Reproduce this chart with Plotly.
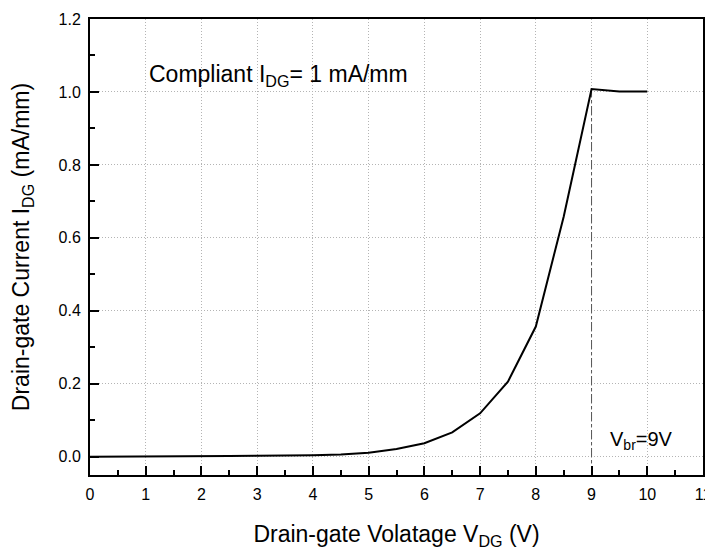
import plotly.graph_objects as go

# Data
v_dg = [0, 0.5, 1, 1.5, 2, 2.5, 3, 3.5, 4, 4.5, 5, 5.5, 6, 6.5, 7, 7.5, 8, 8.5, 9, 9.5, 10]
i_dg = [0.000, 0.000, 0.001, 0.001, 0.002, 0.002, 0.003, 0.003, 0.004, 0.006, 0.011, 0.021,
        0.037, 0.067, 0.119, 0.206, 0.357, 0.658, 1.008, 1.001, 1.001]
v_br = 9
i_compliant = 1.0
x_range = [0, 11]
y_range = [-0.05, 1.2]

FONT = "Arial, Liberation Sans, sans-serif"

fig = go.Figure()

# Breakdown marker line (dash-dot) at V_br
fig.add_trace(go.Scatter(
    x=[v_br, v_br], y=[y_range[0], i_compliant], mode="lines",
    line=dict(color="#555555", width=1, dash="dashdot"),
    hoverinfo="skip", showlegend=False))

fig.add_trace(go.Scatter(
    x=v_dg, y=i_dg, mode="lines",
    line=dict(color="black", width=2),
    showlegend=False))

axis_common = dict(
    showline=True, linecolor="black", linewidth=2, mirror=True,
    ticks="inside", ticklen=9, tickwidth=1.5, tickcolor="black",
    showgrid=True, gridcolor="#b4b4b4", gridwidth=1, griddash="1px,2px",
    zeroline=False, automargin=False, ticklabelstandoff=4,
)

fig.update_xaxes(
    range=x_range, dtick=1, tick0=0,
    tickfont=dict(family=FONT, size=16, color="black"),
    minor=dict(dtick=0.5, ticks="inside", ticklen=5, tickwidth=1.5, tickcolor="black", showgrid=False),
    title=dict(text="Drain-gate Volatage V<sub>DG</sub> (V)",
               font=dict(family=FONT, size=23, color="black"), standoff=26),
    **axis_common)
fig.update_yaxes(
    range=y_range, dtick=0.2, tick0=0, tickformat=".1f",
    tickfont=dict(family=FONT, size=16, color="black"),
    minor=dict(dtick=0.1, ticks="inside", ticklen=5, tickwidth=1.5, tickcolor="black", showgrid=False),
    title=dict(text="Drain-gate Current I<sub>DG</sub> (mA/mm)",
               font=dict(family=FONT, size=23, color="black"), standoff=24),
    **axis_common)

fig.add_annotation(
    x=1.03, y=1.045, xref="x", yref="y", xanchor="left", yanchor="middle",
    text="Compliant I<sub>DG</sub>= 1 mA/mm", showarrow=False,
    font=dict(family=FONT, size=23, color="black"))
fig.add_annotation(
    x=9.9, y=0.045, xref="x", yref="y", xanchor="center", yanchor="middle",
    text="V<sub>br</sub>=9V", showarrow=False,
    font=dict(family=FONT, size=20, color="black"))

# The page body has an 8px default margin, so the figure is sized to fit inside it
fig.update_layout(
    width=705, height=542,
    margin=dict(l=82, r=10, t=11, b=75),
    paper_bgcolor="white", plot_bgcolor="white",
    font=dict(family=FONT, color="black", size=16),
)

fig.write_html("out.html")
